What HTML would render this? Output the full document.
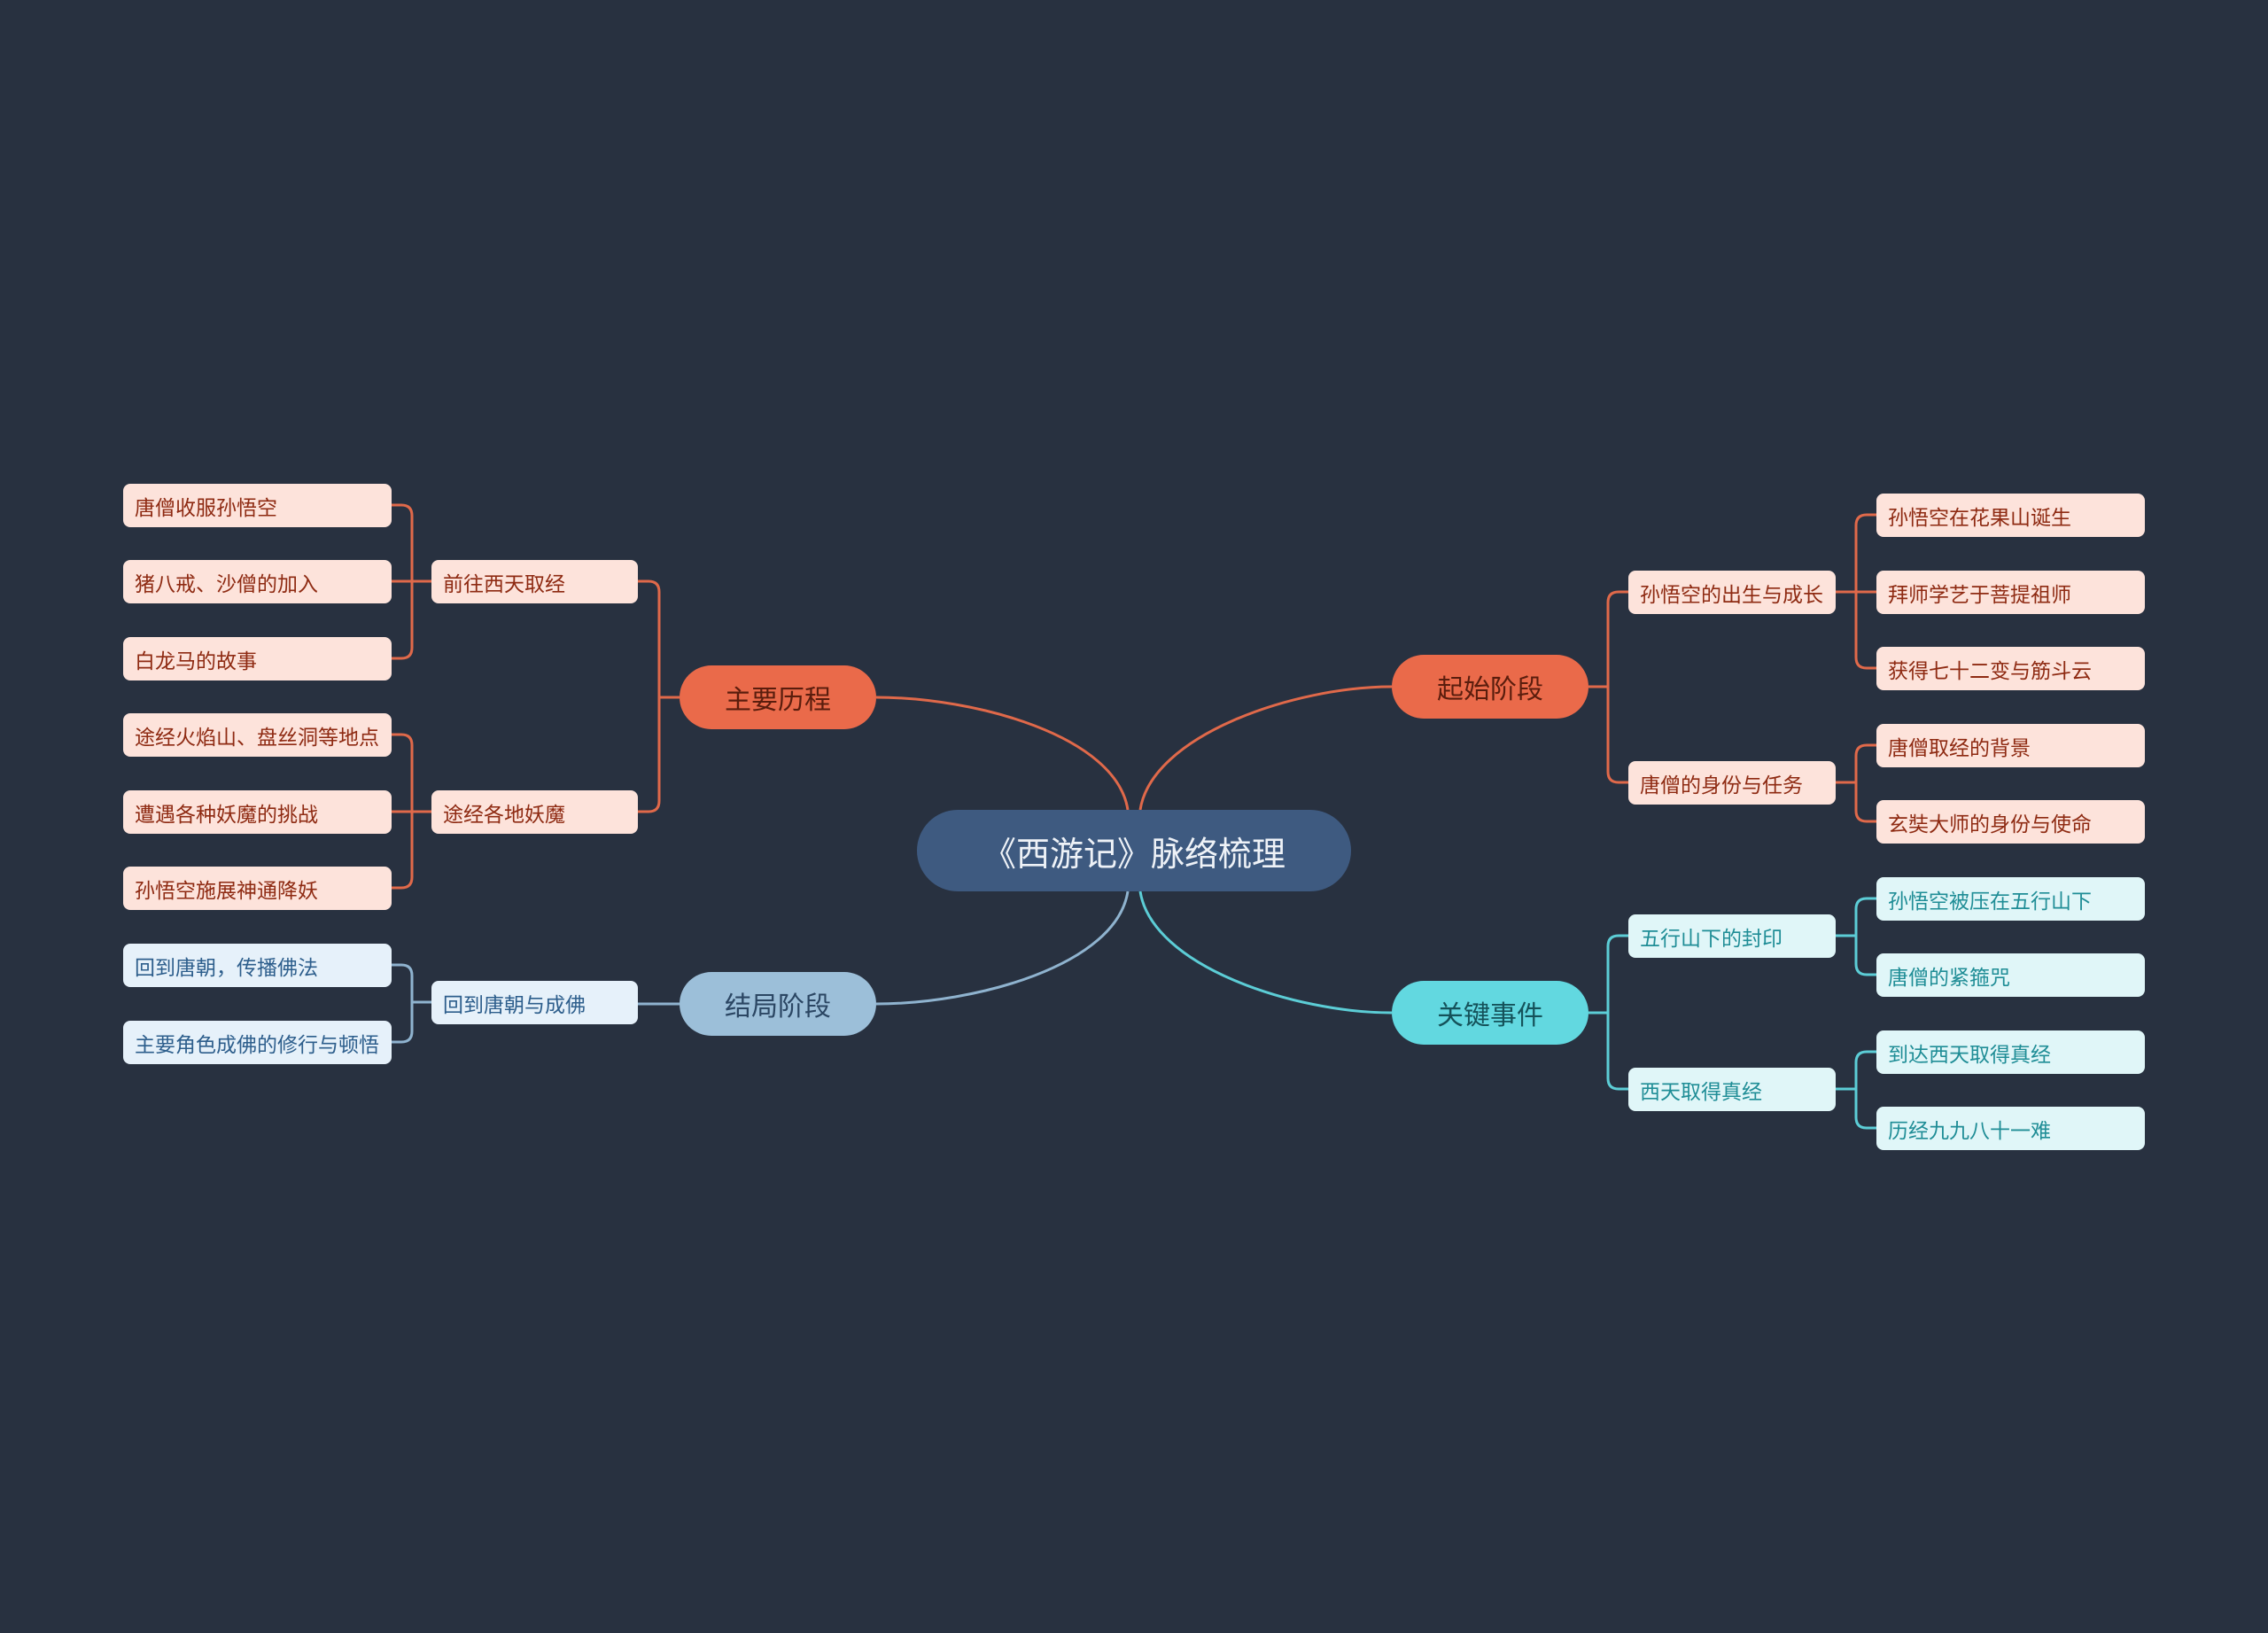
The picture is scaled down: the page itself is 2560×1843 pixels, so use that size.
<!DOCTYPE html>
<html><head><meta charset="utf-8">
<style>
html,body{margin:0;padding:0;}
body{width:2560px;height:1843px;background:#283140;position:relative;overflow:hidden;font-family:"Liberation Sans","Noto Sans CJK SC",sans-serif;}
.n{position:absolute;box-sizing:border-box;display:flex;align-items:center;white-space:nowrap;}
.leaf{height:49px;border-radius:8px;font-size:23px;padding-left:13px;}
.o{background:#fde3db;color:#8e2a12;}
.t{background:#e0f6f8;color:#1f8d96;}
.b{background:#e6f1fa;color:#2d5e8c;}
.main{height:72px;border-radius:36px;justify-content:center;font-size:30px;width:222px;}
svg{position:absolute;left:0;top:0;}
</style></head><body>
<svg width="2560" height="1843" fill="none" stroke-width="3">
<g stroke="#e0694a">
<path d="M1273 914 C1260 830 1100 787 989 787"/>
<path d="M1287 914 C1300 830 1460 775 1571 775"/>
<path d="M767 787 H744 M744 787 V668 Q744 656 732 656 H720 M744 787 V904 Q744 916 732 916 H720"/>
<path d="M487 656 H442 M465 656 V582 Q465 570 453 570 H442 M465 656 V731 Q465 743 453 743 H442"/>
<path d="M487 916 H442 M465 916 V841 Q465 829 453 829 H442 M465 916 V990 Q465 1002 453 1002 H442"/>
<path d="M1793 775 H1815 M1815 775 V680 Q1815 668 1827 668 H1838 M1815 775 V871 Q1815 883 1827 883 H1838"/>
<path d="M2072 668 H2118 M2095 668 V593 Q2095 581 2107 581 H2118 M2095 668 V742 Q2095 754 2107 754 H2118"/>
<path d="M2072 883 H2095 M2095 883 V853 Q2095 841 2107 841 H2118 M2095 883 V915 Q2095 927 2107 927 H2118"/>
</g>
<g stroke="#8fb3cf">
<path d="M1273 1006 C1260 1090 1100 1133 989 1133"/>
<path d="M767 1133 H720"/>
<path d="M487 1131 H465 M465 1131 V1101 Q465 1089 453 1089 H442 M465 1131 V1164 Q465 1176 453 1176 H442"/>
</g>
<g stroke="#5ccdd6">
<path d="M1287 1006 C1300 1090 1460 1143 1571 1143"/>
<path d="M1793 1143 H1815 M1815 1143 V1068 Q1815 1056 1827 1056 H1838 M1815 1143 V1217 Q1815 1229 1827 1229 H1838"/>
<path d="M2072 1056 H2095 M2095 1056 V1026 Q2095 1014 2107 1014 H2118 M2095 1056 V1088 Q2095 1100 2107 1100 H2118"/>
<path d="M2072 1229 H2095 M2095 1229 V1199 Q2095 1187 2107 1187 H2118 M2095 1229 V1261 Q2095 1273 2107 1273 H2118"/>
</g>
</svg>

<div class="n" style="left:1035px;top:914px;width:490px;height:92px;border-radius:46px;background:#3e5a80;color:#eef2f7;font-size:38px;justify-content:center;">《西游记》脉络梳理</div>

<div class="n main" style="left:767px;top:751px;background:#ea6a4a;color:#5a1d0d;">主要历程</div>
<div class="n main" style="left:767px;top:1097px;background:#9cbfd9;color:#2b4663;">结局阶段</div>
<div class="n main" style="left:1571px;top:739px;background:#ea6a4a;color:#5a1d0d;">起始阶段</div>
<div class="n main" style="left:1571px;top:1107px;background:#62d8e0;color:#15525a;">关键事件</div>

<!-- left mids -->
<div class="n leaf o" style="left:487px;top:632px;width:233px;">前往西天取经</div>
<div class="n leaf o" style="left:487px;top:892px;width:233px;">途经各地妖魔</div>
<div class="n leaf b" style="left:487px;top:1107px;width:233px;">回到唐朝与成佛</div>

<!-- left leaves -->
<div class="n leaf o" style="left:139px;top:546px;width:303px;">唐僧收服孙悟空</div>
<div class="n leaf o" style="left:139px;top:632px;width:303px;">猪八戒、沙僧的加入</div>
<div class="n leaf o" style="left:139px;top:719px;width:303px;">白龙马的故事</div>
<div class="n leaf o" style="left:139px;top:805px;width:303px;">途经火焰山、盘丝洞等地点</div>
<div class="n leaf o" style="left:139px;top:892px;width:303px;">遭遇各种妖魔的挑战</div>
<div class="n leaf o" style="left:139px;top:978px;width:303px;">孙悟空施展神通降妖</div>
<div class="n leaf b" style="left:139px;top:1065px;width:303px;">回到唐朝，传播佛法</div>
<div class="n leaf b" style="left:139px;top:1152px;width:303px;">主要角色成佛的修行与顿悟</div>

<!-- right mids -->
<div class="n leaf o" style="left:1838px;top:644px;width:234px;">孙悟空的出生与成长</div>
<div class="n leaf o" style="left:1838px;top:859px;width:234px;">唐僧的身份与任务</div>
<div class="n leaf t" style="left:1838px;top:1032px;width:234px;">五行山下的封印</div>
<div class="n leaf t" style="left:1838px;top:1205px;width:234px;">西天取得真经</div>

<!-- right leaves -->
<div class="n leaf o" style="left:2118px;top:557px;width:303px;">孙悟空在花果山诞生</div>
<div class="n leaf o" style="left:2118px;top:644px;width:303px;">拜师学艺于菩提祖师</div>
<div class="n leaf o" style="left:2118px;top:730px;width:303px;">获得七十二变与筋斗云</div>
<div class="n leaf o" style="left:2118px;top:817px;width:303px;">唐僧取经的背景</div>
<div class="n leaf o" style="left:2118px;top:903px;width:303px;">玄奘大师的身份与使命</div>
<div class="n leaf t" style="left:2118px;top:990px;width:303px;">孙悟空被压在五行山下</div>
<div class="n leaf t" style="left:2118px;top:1076px;width:303px;">唐僧的紧箍咒</div>
<div class="n leaf t" style="left:2118px;top:1163px;width:303px;">到达西天取得真经</div>
<div class="n leaf t" style="left:2118px;top:1249px;width:303px;">历经九九八十一难</div>
</body></html>
